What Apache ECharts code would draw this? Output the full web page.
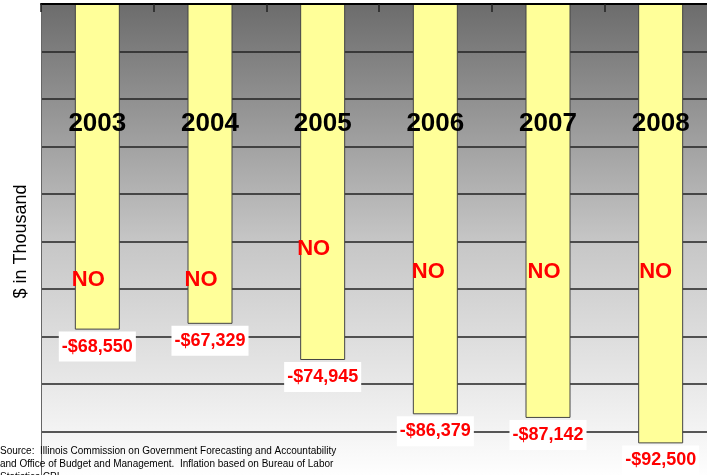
<!DOCTYPE html>
<html>
<head>
<meta charset="utf-8">
<script src="https://cdn.jsdelivr.net/npm/echarts@6/dist/echarts.min.js"></script>
<style>
html,body{margin:0;padding:0;background:#fff;}
#chart{width:707px;height:475px;}
</style>
</head>
<body>
<div id="chart"></div>
<script>
// ---- data ----
const categories = ['2003', '2004', '2005', '2006', '2007', '2008'];
const values = [-68550, -67329, -74945, -86379, -87142, -92500];
const valueLabels = ['-$68,550', '-$67,329', '-$74,945', '-$86,379', '-$87,142', '-$92,500'];
const noLabels = ['NO', 'NO', 'NO', 'NO', 'NO', 'NO'];
const axisName = '$ in Thousands';
const sourceLines = [
  'Source:  Illinois Commission on Government Forecasting and Accountability',
  'and Office of Budget and Management.  Inflation based on Bureau of Labor',
  'Statistics CPI'
];

// ---- layout (annotation offsets, px) ----
const noOffsets = [[-9, 265], [-9, 265], [-9, 234], [-7, 257], [-4, 257], [-5, 257]];

const FONT = '"Liberation Sans", Arial, Helvetica, sans-serif';
const chart = echarts.init(document.getElementById('chart'), null, {renderer: 'canvas'});

const option = {
  animation: false,
  backgroundColor: '#ffffff',
  grid: {
    left: 41, top: 4, width: 676, height: 475,
    outerBoundsMode: 'none',
    containLabel: false,
    show: true, borderWidth: 0,
    backgroundColor: {
      type: 'linear', x: 0, y: 0, x2: 0, y2: 1,
      colorStops: [
        {offset: 0, color: '#6c6c6c'},
        {offset: 0.5, color: '#c6c6c6'},
        {offset: 1, color: '#ffffff'}
      ]
    }
  },
  xAxis: {
    type: 'category',
    data: categories,
    position: 'top',
    z: 10,
    axisLine: {show: true, lineStyle: {color: '#000', width: 2}},
    axisTick: {show: true, inside: true, length: 8, alignWithLabel: false, lineStyle: {color: '#222', width: 1.5}},
    axisLabel: {
      show: true, inside: true, margin: 107,
      color: '#000', fontSize: 26, fontWeight: 'bold', fontFamily: FONT
    },
    splitLine: {show: false}
  },
  yAxis: {
    type: 'value',
    min: -100000, max: 0, interval: 10000,
    name: axisName,
    nameLocation: 'middle',
    nameGap: 11,
    nameTruncate: {maxWidth: 122, ellipsis: ''},
    nameTextStyle: {
      color: '#000', fontSize: 18, fontFamily: FONT
    },
    axisLine: {show: true, lineStyle: {color: '#666', width: 1}},
    axisTick: {show: false},
    axisLabel: {show: false},
    splitLine: {show: true, lineStyle: {color: '#222', width: 1.5}}
  },
  series: [
    {
      type: 'bar',
      data: values,
      barWidth: 45,
      itemStyle: {color: '#ffff99', borderColor: '#444', borderWidth: 1},
      label: {
        show: true,
        position: 'bottom',
        distance: 2,
        formatter: p => valueLabels[p.dataIndex],
        color: '#ff0000',
        fontSize: 18,
        fontWeight: 'bold',
        fontFamily: FONT,
        backgroundColor: '#ffffff',
        padding: [6, 3, 6, 3]
      },
      z: 2
    },
    {
      type: 'bar',
      barWidth: 45,
      barGap: '-100%',
      silent: true,
      itemStyle: {color: 'rgba(0,0,0,0)', borderWidth: 0},
      data: values.map((v, i) => ({
        value: v,
        label: {
          show: true,
          position: 'insideTop',
          distance: 0,
          offset: noOffsets[i],
          formatter: noLabels[i],
          color: '#ff0000',
          fontSize: 22,
          fontWeight: 'bold',
          fontFamily: FONT
        }
      })),
      z: 3
    }
  ],
  graphic: sourceLines.map((t, i) => ({
    type: 'text',
    left: 0,
    top: 446 + i * 13,
    z: 100,
    style: {text: t, fill: '#000', font: '10px ' + FONT}
  }))
};
chart.setOption(option);
</script>
</body>
</html>
